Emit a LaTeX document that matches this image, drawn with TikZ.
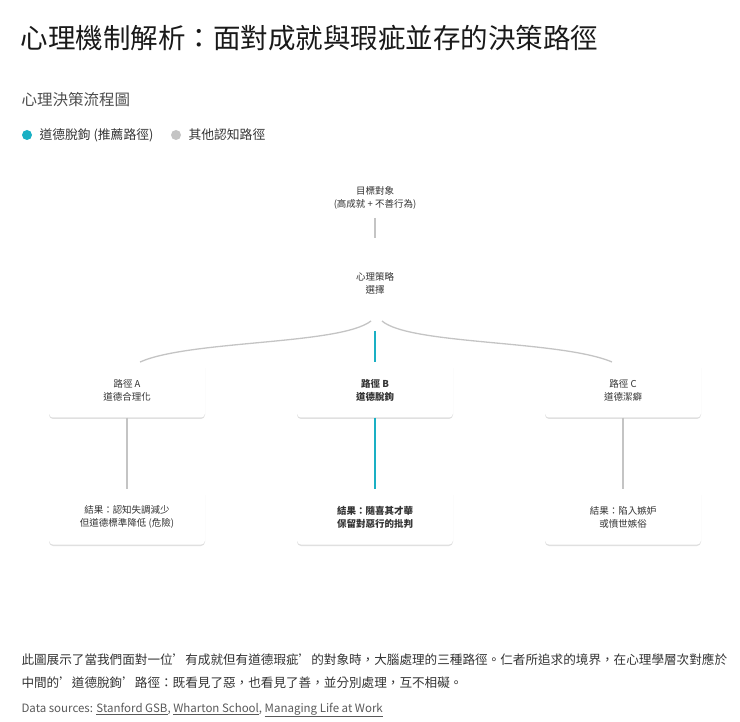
\documentclass[tikz,border=0pt]{standalone}
\usepackage{fontspec}
\setmainfont{Noto Sans CJK TC}
\usetikzlibrary{shadows}
\definecolor{teal1}{HTML}{1AB0C4}
\definecolor{gline}{HTML}{C4C4C4}
\definecolor{txt}{HTML}{333333}
\begin{document}
\begin{tikzpicture}[x=1pt,y=-1pt,
  box/.style={draw=none,fill=white,rounded corners=4pt,minimum width=156pt,minimum height=55pt,
    drop shadow={shadow xshift=0pt,shadow yshift=-1.5pt,opacity=0.12,fill=black},align=center,font=\fontsize{9.5}{13}\selectfont,text=txt},
  plain/.style={align=center,font=\fontsize{9.5}{13}\selectfont,text=txt},
  gl/.style={draw=gline,line width=1.3pt},
  tl/.style={draw=teal1,line width=1.6pt}]
\useasboundingbox (0,0) rectangle (740,722);
\node[anchor=west,font=\fontsize{27.5}{32}\selectfont,text=black!90] (title) at (17,38) {心理機制解析：面對成就與瑕疵並存的決策路徑};
\node[anchor=west,font=\fontsize{15.5}{18}\selectfont,text=black!70] (sub) at (18,100) {心理決策流程圖};
\fill[teal1] (27,135) circle (5pt);
\node[anchor=west,font=\fontsize{12.8}{16}\selectfont,text=txt] (l1) at (36,135) {道德脫鉤 (推薦路徑)};
\fill[gline] (176,135) circle (5pt);
\node[anchor=west,font=\fontsize{12.8}{16}\selectfont,text=txt] (l2) at (185,135) {其他認知路徑};
\node[plain] (top) at (375,198) {目標對象\\(高成就 + 不善行為)};
\node[plain] (mid) at (375,283) {心理策略\\選擇};
\coordinate (t1) at (375,218); \coordinate (t2) at (375,238);
\draw[gl] (t1) -- (t2);
\node[box] (a) at (127,390) {路徑 A\\道德合理化};
\node[box,font=\fontsize{9.5}{13}\selectfont\bfseries] (b) at (375,390) {路徑 B\\道德脫鉤};
\node[box] (c) at (623,390) {路徑 C\\道德潔癖};
\node[box] (ra) at (127,517) {結果：認知失調減少\\但道德標準降低 (危險)};
\node[box,font=\fontsize{9.5}{13}\selectfont\bfseries] (rb) at (375,517) {結果：隨喜其才華\\保留對惡行的批判};
\node[box] (rc) at (623,517) {結果：陷入嫉妒\\或憤世嫉俗};
\coordinate (s1) at (371,321); \coordinate (s2) at (382,321); \coordinate (s3) at (375,331);
\draw[gl] (s1) .. controls (340,345) and (190,340) .. (140,362);
\draw[gl] (s2) .. controls (410,345) and (560,340) .. (612,362);
\draw[tl] (s3) -- (b.north);
\draw[gl] (a.south) -- (ra.north);
\draw[tl] (b.south) -- (rb.north);
\draw[gl] (c.south) -- (rc.north);
\node[anchor=west,font=\fontsize{12.6}{16}\selectfont,text=txt] (p1) at (18,660) {此圖展示了當我們面對一位'有成就但有道德瑕疵'的對象時，大腦處理的三種路徑。仁者所追求的境界，在心理學層次對應於};
\node[anchor=west,font=\fontsize{12.6}{16}\selectfont,text=txt] (p2) at (18,683) {中間的'道德脫鉤'路徑：既看見了惡，也看見了善，並分別處理，互不相礙。};
\node[anchor=west,font=\fontsize{11.5}{14}\selectfont,text=black!65] (ds) at (18,710) {Data sources: \underline{Stanford GSB}, \underline{Wharton School}, \underline{Managing Life at Work}};
\end{tikzpicture}
\end{document}
